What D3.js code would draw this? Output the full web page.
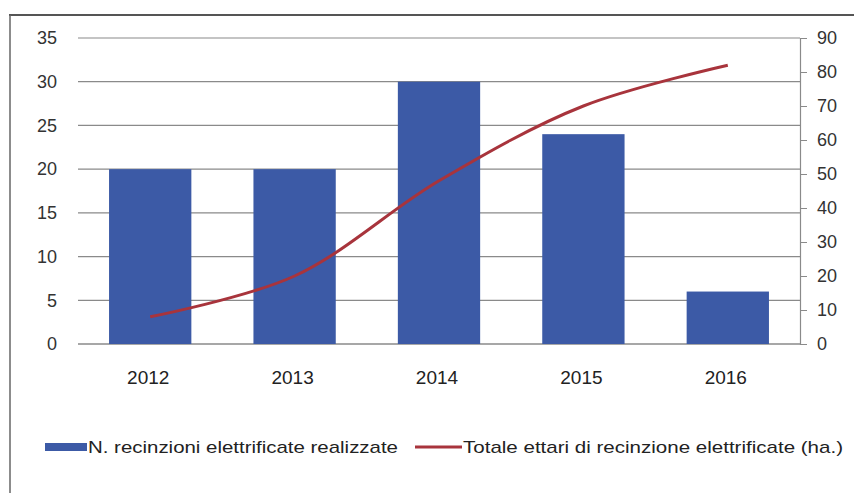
<!DOCTYPE html>
<html><head><meta charset="utf-8">
<script src="https://cdn.jsdelivr.net/npm/d3@7"></script>
<style>body{margin:0;background:#fff}svg{display:block}</style>
</head><body>
<script>
const years = ["2012","2013","2014","2015","2016"];
const recinzioni = [20, 20, 30, 24, 6];
const ettari = [8, 20, 48, 70, 82];
const leftTicks = [0,5,10,15,20,25,30,35];
const rightTicks = [0,10,20,30,40,50,60,70,80,90];
const legendLabels = ["N. recinzioni elettrificate realizzate","Totale ettari di recinzione elettrificate (ha.)"];

const W=854,H=493;
const svg=d3.select("body").append("svg").attr("width",W).attr("height",H);
const font="'Liberation Sans',Arial,sans-serif";
const L=78,R=800,T=38,B=344;
const x=d3.scaleBand().domain(years).range([L,R]).paddingInner(0.43).paddingOuter(0.215);
const y=d3.scaleLinear().domain([0,35]).range([B,T]);
const y2=d3.scaleLinear().domain([0,90]).range([B,T]);

// frame
svg.append("line").attr("x1",9).attr("x2",W).attr("y1",15).attr("y2",15).attr("stroke","#555").attr("stroke-width",2);
svg.append("line").attr("x1",10).attr("x2",10).attr("y1",15).attr("y2",H).attr("stroke","#666").attr("stroke-width",1.5);

// grid
svg.append("g").selectAll("line").data(leftTicks).join("line")
 .attr("x1",L).attr("x2",R).attr("y1",d=>y(d)).attr("y2",d=>y(d))
 .attr("stroke","#8a8a8a").attr("stroke-width",1.2);

// left axis labels
const gl=svg.append("g").attr("transform",`translate(${L},0)`)
 .call(d3.axisLeft(y).tickValues(leftTicks).tickSize(0).tickPadding(21));
gl.select(".domain").remove();
gl.selectAll("text").attr("font-family",font).attr("font-size",18).attr("fill","#333");

// right axis
const gr=svg.append("g").attr("transform",`translate(${R},0)`)
 .call(d3.axisRight(y2).tickValues(rightTicks).tickSize(7).tickPadding(10));
gr.select(".domain").attr("stroke","#8a8a8a").attr("stroke-width",1.2);
gr.selectAll("line").attr("stroke","#8a8a8a");
gr.selectAll("text").attr("font-family",font).attr("font-size",18).attr("fill","#333");

// bottom axis
svg.append("line").attr("x1",L).attr("x2",R).attr("y1",B).attr("y2",B).attr("stroke","#8a8a8a").attr("stroke-width",1.2);
const gb=svg.append("g").attr("transform",`translate(-2,${B})`)
 .call(d3.axisBottom(x).tickSize(0).tickPadding(27));
gb.select(".domain").remove();
gb.selectAll("text").attr("font-family",font).attr("font-size",19).attr("fill","#222");

// bars
svg.append("g").selectAll("rect").data(years).join("rect")
 .attr("x",d=>x(d)).attr("width",x.bandwidth())
 .attr("y",(d,i)=>y(recinzioni[i])).attr("height",(d,i)=>B-y(recinzioni[i]))
 .attr("fill","#3c5aa6");

// line
const line=d3.line().x((d,i)=>x(years[i])+x.bandwidth()/2).y(d=>y2(d)).curve(d3.curveCatmullRom.alpha(0.5));
svg.append("path").datum(ettari).attr("d",line).attr("fill","none").attr("stroke","#a8343c").attr("stroke-width",3);

// legend
const ly=447;
svg.append("rect").attr("x",45).attr("y",ly-4).attr("width",42).attr("height",8).attr("fill","#3c5aa6");
svg.append("text").attr("x",88).attr("y",ly+6).text(legendLabels[0]).attr("font-family",font).attr("font-size",17).attr("fill","#222")
 .attr("textLength",310).attr("lengthAdjust","spacingAndGlyphs");
svg.append("line").attr("x1",415).attr("x2",462).attr("y1",ly).attr("y2",ly).attr("stroke","#a8343c").attr("stroke-width",3);
svg.append("text").attr("x",463).attr("y",ly+6).text(legendLabels[1]).attr("font-family",font).attr("font-size",17).attr("fill","#222")
 .attr("textLength",380).attr("lengthAdjust","spacingAndGlyphs");
</script>
</body></html>
